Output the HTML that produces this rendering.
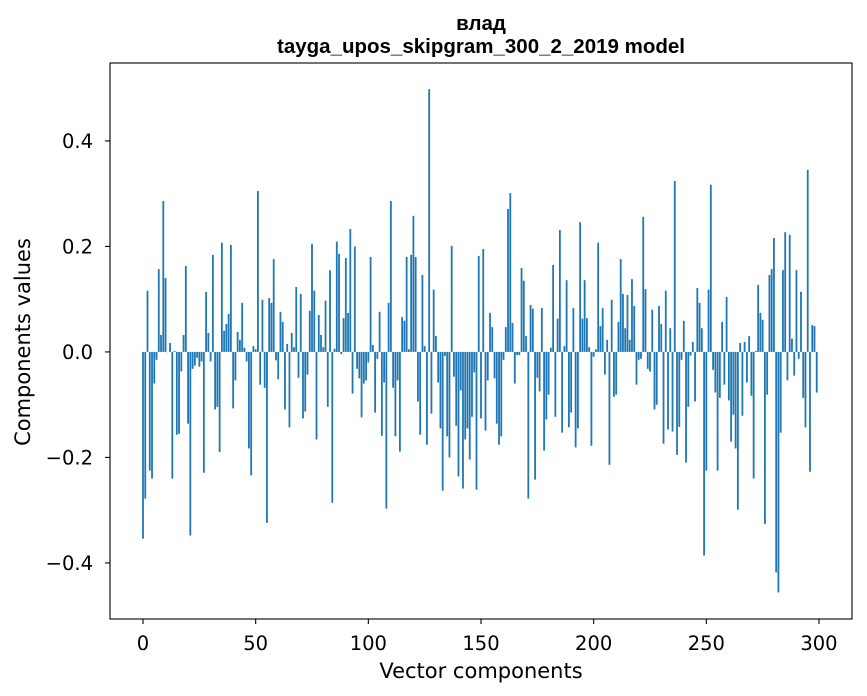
<!DOCTYPE html>
<html><head><meta charset="utf-8"><style>
body{margin:0;background:#fff;}
svg{display:block;font-family:"DejaVu Sans","Liberation Sans",sans-serif;}
</style></head><body>
<svg id="chart" width="867" height="696" viewBox="0 0 867 696" xmlns="http://www.w3.org/2000/svg">
<rect width="867" height="696" fill="#fff"/>
<text x="481" y="30" text-anchor="middle" font-size="20.5" font-weight="bold" font-family="Liberation Sans, sans-serif">влад</text>
<text x="481" y="53" text-anchor="middle" font-size="20.5" font-weight="bold" font-family="Liberation Sans, sans-serif">tayga_upos_skipgram_300_2_2019 model</text>
<g id="bars"></g>
<g id="axes"></g>
<text x="481" y="678" text-anchor="middle" font-size="21">Vector components</text>
<text transform="translate(30,342) rotate(-90)" text-anchor="middle" font-size="21">Components values</text>
</svg>
<script>
const values = [
-0.354,-0.278,0.116,-0.225,-0.24,-0.06,-0.015,0.157,0.032,0.286,
0.14,0.0,0.017,-0.24,0.002,-0.157,-0.155,-0.037,0.032,0.163,
-0.136,-0.348,-0.032,-0.026,-0.011,-0.028,-0.018,-0.229,0.114,0.036,
-0.018,0.184,-0.109,-0.104,-0.19,0.207,0.04,0.053,0.072,0.203,
-0.107,-0.054,0.038,0.023,0.093,0.008,-0.018,-0.183,-0.234,0.011,
0.005,0.305,-0.062,0.099,-0.068,-0.324,0.102,0.093,0.176,-0.016,
-0.052,0.076,0.057,-0.109,0.015,-0.143,0.036,0.009,0.123,-0.049,
0.11,-0.126,-0.113,-0.043,0.078,0.205,0.116,-0.166,0.07,0.032,
0.009,0.097,-0.104,0.155,-0.286,0.006,0.209,0.186,-0.004,0.064,
0.178,0.074,0.233,-0.079,0.2,-0.032,-0.05,-0.124,-0.06,-0.054,
-0.02,0.18,0.013,-0.115,-0.013,0.076,-0.159,-0.058,-0.297,0.093,
0.286,-0.068,-0.16,-0.054,-0.189,0.066,0.059,0.18,0.005,0.184,
0.258,0.18,-0.094,-0.157,0.146,0.011,-0.176,0.498,-0.117,0.118,
0.03,-0.058,-0.145,-0.263,-0.008,-0.16,-0.2,0.201,-0.047,-0.14,
-0.236,-0.073,-0.259,-0.166,-0.145,-0.204,-0.123,-0.039,-0.261,0.182,
-0.126,0.195,-0.149,-0.054,0.074,0.047,-0.05,-0.136,-0.176,-0.16,
-0.015,0.047,0.271,0.301,0.055,-0.06,-0.006,-0.006,0.159,0.135,
0.03,-0.278,0.089,0.082,-0.242,-0.049,-0.075,0.083,-0.187,-0.128,
-0.081,0.008,0.165,-0.123,0.063,0.231,-0.153,0.011,0.136,-0.143,
-0.115,0.083,-0.181,-0.145,0.246,0.063,0.136,0.064,0.009,-0.178,
-0.009,0.005,0.207,0.049,0.083,-0.043,0.023,-0.214,0.099,-0.085,
-0.081,0.057,0.176,0.11,0.045,0.108,0.023,0.138,0.087,-0.062,
-0.015,-0.013,0.256,0.119,-0.032,-0.037,0.08,-0.109,-0.1,0.087,
0.053,-0.174,0.116,-0.147,0.045,-0.151,0.324,-0.195,-0.142,-0.015,
0.059,-0.21,-0.104,-0.007,0.019,-0.094,0.121,0.093,0.045,-0.386,
-0.225,0.118,0.317,-0.034,-0.077,-0.225,-0.087,0.057,-0.062,0.104,
-0.092,-0.17,-0.119,-0.183,-0.299,0.017,-0.121,0.019,-0.058,0.03,
-0.083,-0.24,0.002,0.127,0.074,0.061,-0.326,-0.081,0.146,0.157,
0.216,-0.418,-0.456,-0.153,0.155,0.227,-0.054,0.222,0.025,-0.045,
0.155,-0.013,0.114,-0.087,-0.143,0.345,-0.227,0.051,0.049,-0.077
];
const xTicks = [0,50,100,150,200,250,300];
const yTicks = [-0.4,-0.2,0.0,0.2,0.4];
const yTickLabels = ["\u22120.4","\u22120.2","0.0","0.2","0.4"];

const NS="http://www.w3.org/2000/svg";
const L=110,R=852,T=63,B=619;
const xMin=-14.65,xMax=314.65,yMin=-0.5063,yMax=0.5477;
function xs(v){return L+(v-xMin)/(xMax-xMin)*(R-L);}
function ys(v){return T+(yMax-v)/(yMax-yMin)*(B-T);}
function mk(tag,attrs,parent){const e=document.createElementNS(NS,tag);for(const k in attrs)e.setAttribute(k,attrs[k]);parent.appendChild(e);return e;}

const bars=document.getElementById('bars');
const bw=(xs(0.8)-xs(0));
values.forEach((v,i)=>{
  const y0=ys(0),y1=ys(v);
  const r=mk('rect',{x:xs(i)-bw/2,y:Math.min(y0,y1),width:bw,height:Math.max(Math.abs(y1-y0),0.3),fill:'#1f77b4'},bars);
  
  
});

const ax=document.getElementById('axes');
const frame=mk('rect',{x:L,y:T,width:R-L,height:B-T,fill:'none',stroke:'#000','stroke-width':1.1},ax);


xTicks.forEach(t=>{
  const x=xs(t);
  mk('line',{x1:x,x2:x,y1:B,y2:B+5,stroke:'#000','stroke-width':1.1},ax);
  const tx=mk('text',{x:x,y:B+31,'text-anchor':'middle','font-size':19.5},ax);
  tx.textContent=String(t);
  
  
});
yTicks.forEach((t,i)=>{
  const y=ys(t);
  mk('line',{x1:L-5,x2:L,y1:y,y2:y,stroke:'#000','stroke-width':1.1},ax);
  const tx=mk('text',{x:L-17,y:y+7,'text-anchor':'end','font-size':19.5},ax);
  tx.textContent=yTickLabels[i];
  
  
});
</script>
</body></html>
